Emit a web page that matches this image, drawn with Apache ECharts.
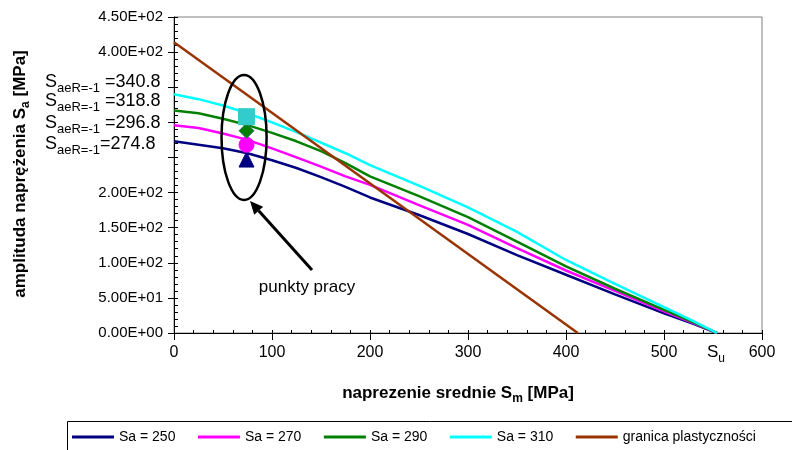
<!DOCTYPE html>
<html><head><meta charset="utf-8">
<script src="https://cdn.jsdelivr.net/npm/echarts@6/dist/echarts.min.js"></script>
<style>html,body{margin:0;padding:0;background:#fff}#c{width:792px;height:450px}</style>
</head><body><div id="c"></div>
<script>
// ---- data ----
const sm      = [0, 25, 50, 75, 100, 125, 150, 175, 200, 250, 300, 350, 400, 450, 500, 530, 554];
const sa250   = [273, 268, 263, 256, 246, 235, 222, 208, 193, 168, 141, 111, 83, 55, 28, 13, 0];
const sa270   = [296, 292, 284, 275, 263, 250, 237, 223, 211, 182, 154, 121, 89, 60, 31, 14, 0];
const sa290   = [317, 313, 305, 296, 285, 273, 259, 242, 223, 195, 165, 130, 95, 63, 33, 15, 0];
const sa310   = [340, 333, 324, 313, 300, 286, 271, 256, 239, 210, 179, 144, 104, 70, 37, 17, 0];
const gpX     = [0, 412];
const gpY     = [414, 0];
const seriesNames = ['Sa = 250', 'Sa = 270', 'Sa = 290', 'Sa = 310', 'granica plastyczności'];
const pointSm = 74;
const pointSa = [247, 268, 288, 308];
const saeLabels = ['340.8', '318.8', '296.8', '274.8'];
const xTicks = {min: 0, max: 600, step: 100};
const yTicks = {min: 0, max: 450, step: 50};
const hiddenYLabels = [250, 300, 350];

// ---- chart ----
const FONT = '"Liberation Sans", Arial, sans-serif';
const colors = ['#000080', '#FF00FF', '#008000', '#00FFFF', '#993300'];
const chart = echarts.init(document.getElementById('c'), null, {renderer: 'canvas'});

function fmtE(v) {
  if (v === 0) return '0.00E+00';
  const e = Math.floor(Math.log10(v) + 1e-9);
  const m = v / Math.pow(10, e);
  return m.toFixed(2) + 'E+' + String(e).padStart(2, '0');
}
function lineS(name, xs, ys, color) {
  return {type: 'line', name, data: xs.map((x, i) => [x, ys[i]]), symbol: 'none',
    lineStyle: {color, width: 2.5}, itemStyle: {color}, z: 3, animation: false};
}
const markerDefs = [
  {symbol: 'triangle', color: '#000080', border: '#000080'},
  {symbol: 'circle', color: '#FF00FF', border: '#FF00FF'},
  {symbol: 'diamond', color: '#008000', border: '#2E6E6E'},
  {symbol: 'rect', color: '#33CCCC', border: '#33CCCC'}
];
const series = [
  lineS(seriesNames[0], sm, sa250, colors[0]),
  lineS(seriesNames[1], sm, sa270, colors[1]),
  lineS(seriesNames[2], sm, sa290, colors[2]),
  lineS(seriesNames[3], sm, sa310, colors[3]),
  lineS(seriesNames[4], gpX, gpY, colors[4])
];
pointSa.forEach((v, i) => {
  series.push({type: 'scatter', name: 'pt' + i, data: [[pointSm, v]], symbol: markerDefs[i].symbol,
    symbolSize: i === 3 ? 16 : 15, itemStyle: {color: markerDefs[i].color, borderColor: markerDefs[i].border, borderWidth: 1, opacity: 1},
    z: 5, animation: false});
});

const axisBase = {type: 'value', splitLine: {show: false}};
chart.setOption({
  animation: false,
  grid: {left: 174, right: 30, top: 17, bottom: 117, show: true, borderColor: '#808080', borderWidth: 1, backgroundColor: 'transparent'},
  xAxis: [
    Object.assign({}, axisBase, {min: xTicks.min, max: xTicks.max, interval: xTicks.step, position: 'bottom',
      axisLine: {show: true, onZero: false, lineStyle: {color: '#000', width: 1}},
      axisTick: {show: true, inside: false, length: 7, lineStyle: {color: '#000'}},
      axisLabel: {color: '#000', fontSize: 16, fontFamily: FONT, margin: 12}}),
    Object.assign({}, axisBase, {min: xTicks.min, max: xTicks.max, interval: 20, position: 'bottom',
      axisLine: {show: false, onZero: false},
      axisTick: {show: true, inside: true, length: 3, lineStyle: {color: '#000'}},
      axisLabel: {show: false}})
  ],
  yAxis: [
    Object.assign({}, axisBase, {min: yTicks.min, max: yTicks.max, interval: yTicks.step, position: 'left',
      axisLine: {show: true, onZero: false, lineStyle: {color: '#000', width: 1}},
      axisTick: {show: true, inside: false, length: 6, lineStyle: {color: '#000'}},
      axisLabel: {color: '#000', fontSize: 15, fontFamily: FONT, margin: 11,
        formatter: v => hiddenYLabels.indexOf(v) >= 0 ? '' : fmtE(v)}}),
    Object.assign({}, axisBase, {min: yTicks.min, max: yTicks.max, interval: 10, position: 'left',
      axisLine: {show: false, onZero: false},
      axisTick: {show: true, inside: true, length: 4, lineStyle: {color: '#000'}},
      axisLabel: {show: false}})
  ],
  legend: {
    data: seriesNames, left: 67, top: 421, width: 725, orient: 'horizontal',
    padding: [9, 2, 8, 5], itemGap: 22.5, itemWidth: 42, itemHeight: 3, icon: 'rect',
    textStyle: {color: '#000', fontSize: 14, fontFamily: FONT}
  },
  series: series
});

// ---- annotations ----
function px(x, y) { return chart.convertToPixel({gridIndex: 0}, [x, y]); }
const graphics = [];
// legend frame (runs off the right edge like the reference)
graphics.push({type: 'rect', z: 1, shape: {x: 67.5, y: 421.5, width: 760, height: 40},
  style: {fill: 'none', stroke: '#000', lineWidth: 1}});
// left S_aeR labels
const labelY = [81, 100, 122, 143];
saeLabels.forEach((t, i) => {
  graphics.push({type: 'text', left: 45, top: labelY[i] - 8, z: 10,
    style: {text: '{s|S}{sub|aeR=-1}' + (i === 3 ? '{s|=' + t + '}' : '{s| =' + t + '}'),
      fill: '#000', font: '18px ' + FONT,
      rich: {s: {fontSize: 18, fontFamily: FONT, lineHeight: 26, verticalAlign: 'middle', fill: '#000'},
             sub: {fontSize: 13, fontFamily: FONT, lineHeight: 15, verticalAlign: 'bottom', fill: '#000'}}}});
});
// S_u label
const su = px(554, 0);
graphics.push({type: 'text', left: su[0] - 10, top: 344, z: 10,
  style: {text: '{s|S}{sub|u}', fill: '#000',
    rich: {s: {fontSize: 17, fontFamily: FONT, lineHeight: 24, verticalAlign: 'middle', fill: '#000'},
           sub: {fontSize: 12, fontFamily: FONT, lineHeight: 14, verticalAlign: 'bottom', fill: '#000'}}}});
// x axis title
graphics.push({type: 'text', x: 458, y: 393, z: 10,
  style: {text: '{b|naprezenie srednie S}{sb|m}{b| [MPa]}', align: 'center', verticalAlign: 'middle', fill: '#000',
    rich: {b: {fontSize: 17, fontWeight: 'bold', fontFamily: FONT, lineHeight: 24, verticalAlign: 'middle', fill: '#000'},
           sb: {fontSize: 12, fontWeight: 'bold', fontFamily: FONT, lineHeight: 13, verticalAlign: 'bottom', fill: '#000'}}}});
// y axis title
graphics.push({type: 'text', x: 20, y: 174, rotation: Math.PI / 2, z: 10,
  style: {text: '{b|amplituda naprężenia S}{sb|a}{b| [MPa]}', align: 'center', verticalAlign: 'middle', fill: '#000',
    rich: {b: {fontSize: 17, fontWeight: 'bold', fontFamily: FONT, lineHeight: 24, verticalAlign: 'middle', fill: '#000'},
           sb: {fontSize: 12, fontWeight: 'bold', fontFamily: FONT, lineHeight: 13, verticalAlign: 'bottom', fill: '#000'}}}});
// ellipse around working points
const ec = px(71.5, 278.5);
const er = px(71.5 + 23, 278.5 - 89);
graphics.push({type: 'ellipse', z: 6, shape: {cx: ec[0], cy: ec[1], rx: er[0] - ec[0], ry: er[1] - ec[1]},
  style: {fill: 'none', stroke: '#000', lineWidth: 2.5}});
// arrow
const tip = [250, 201], tail = [312, 270];
const dx = tip[0] - tail[0], dy = tip[1] - tail[1], L = Math.hypot(dx, dy);
const ux = dx / L, uy = dy / L, nx = -uy, ny = ux;
const bx = tip[0] - 13 * ux, by = tip[1] - 13 * uy;
graphics.push({type: 'line', z: 6, shape: {x1: tail[0], y1: tail[1], x2: bx, y2: by}, style: {stroke: '#000', lineWidth: 3}});
graphics.push({type: 'polygon', z: 6, shape: {points: [tip, [bx + 6 * nx, by + 6 * ny], [bx - 6 * nx, by - 6 * ny]]}, style: {fill: '#000'}});
// text
graphics.push({type: 'text', x: 307, y: 287, z: 10,
  style: {text: 'punkty pracy', font: '17px ' + FONT, fill: '#000', align: 'center', verticalAlign: 'middle'}});
chart.setOption({graphic: graphics});
</script></body></html>
